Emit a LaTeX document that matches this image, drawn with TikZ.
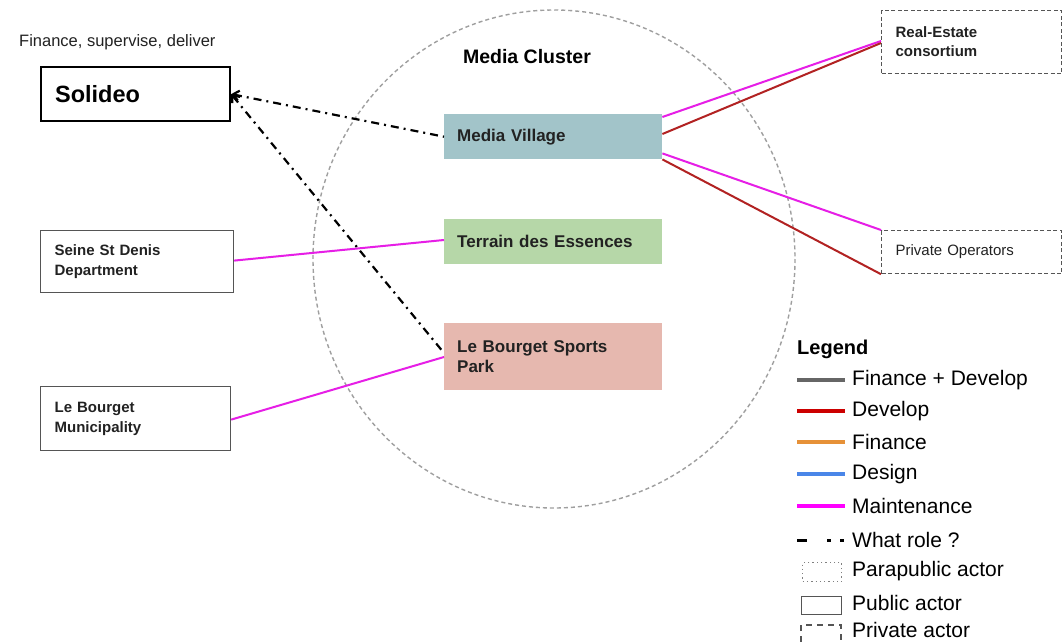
\documentclass[tikz,border=0pt]{standalone}
\usepackage{fontspec}
\setmainfont{Liberation Sans}
\usetikzlibrary{arrows.meta}
\definecolor{mvfill}{HTML}{A2C4C9}
\definecolor{tefill}{HTML}{B6D7A8}
\definecolor{spfill}{HTML}{E6B8AF}
\definecolor{magline}{HTML}{E61EE6}
\definecolor{redline}{HTML}{B22222}
\definecolor{lgray}{HTML}{666666}
\definecolor{lred}{HTML}{CC0000}
\definecolor{lorange}{HTML}{E69138}
\definecolor{lblue}{HTML}{4A86E8}
\definecolor{lmag}{HTML}{FF00FF}
\definecolor{boxgray}{HTML}{555555}
\definecolor{txt}{HTML}{222222}
\tikzset{
  basebox/.style={rectangle, anchor=north west, inner xsep=14pt, inner ysep=0pt, align=left, text=txt, font=\fontsize{15}{20}\selectfont\bfseries},
  pubbox/.style={basebox, draw=boxgray, line width=1.2pt},
  privbox/.style={basebox, draw=boxgray, line width=1.2pt, dash pattern=on 4pt off 2.5pt},
  sitebox/.style={basebox, inner xsep=13pt, font=\fontsize{17}{20}\selectfont\bfseries},
  maint/.style={draw=magline, line width=2pt},
  devl/.style={draw=redline, line width=2pt},
  whatrole/.style={draw=black, line width=2.2pt, dash pattern=on 8pt off 5pt on 2pt off 5pt},
  legline/.style={line width=3.5pt},
  legtext/.style={anchor=west, inner sep=0pt, font=\fontsize{21}{22}\selectfont},
}
\begin{document}
\begin{tikzpicture}[x=1pt,y=-1pt]
\useasboundingbox[fill=white] (0,0) rectangle (1062,642);
% cluster ellipse
\draw[draw=gray!75, line width=1.4pt, dash pattern=on 4pt off 3pt] (554,259) ellipse [x radius=241, y radius=249];
\node[font=\fontsize{19.5}{22}\selectfont\bfseries, text=black] (mc) at (527,57) {Media Cluster};
% Solideo
\node[anchor=west, inner sep=0pt, font=\fontsize{16.5}{18}\selectfont, text=txt] (fsd) at (19,42) {Finance, supervise, deliver};
\node[basebox, draw=black, line width=2.2pt, minimum width=189pt, text width=161pt, minimum height=54pt, font=\fontsize{23.5}{26}\selectfont\bfseries, text=black] (sol) at (40,66) {Solideo};
% public boxes
\node[pubbox, minimum width=193pt, text width=165pt, minimum height=62pt] (ssd) at (40,230) {Seine\,\,St Denis\\Department};
\node[pubbox, minimum width=190pt, text width=162pt, minimum height=64pt] (lbm) at (40,386) {Le Bourget\\Municipality};
% sites
\node[sitebox, fill=mvfill, minimum width=218pt, text width=192pt, minimum height=45pt] (mv) at (444,114) {Media Village};
\node[sitebox, fill=tefill, minimum width=218pt, text width=192pt, minimum height=45pt] (te) at (444,219) {Terrain des Essences};
\node[sitebox, fill=spfill, minimum width=218pt, text width=192pt, minimum height=67pt] (sp) at (444,323) {Le Bourget Sports\\Park};
% private boxes
\node[privbox, minimum width=180pt, text width=152pt, minimum height=63pt, font=\fontsize{15}{19}\selectfont\bfseries] (rec) at (881,10) {Real-Estate\\consortium};
\node[privbox, minimum width=180pt, text width=152pt, minimum height=43pt, font=\fontsize{15}{17}\selectfont] (po) at (881,230) {Private Operators};
% connectors
\draw[maint] ([yshift=-3pt]mv.north east) -- ([yshift=-31pt]rec.north west);
\draw[devl] ([yshift=-20pt]mv.north east) -- ([yshift=-33pt]rec.north west);
\draw[maint] ([yshift=6pt]mv.south east) -- (po.north west);
\draw[devl] (mv.south east) -- (po.south west);
\draw[maint] ([yshift=1pt]ssd.east) -- ([yshift=-21pt]te.north west);
\draw[maint] ([yshift=-1pt]lbm.east) -- ([yshift=-34pt]sp.north west);
\draw[whatrole, {Straight Barb[length=6pt,width=10pt]}-] (sol.east) -- (mv.west);
\draw[whatrole, {Straight Barb[length=6pt,width=10pt]}-] (sol.east) -- ([yshift=-30pt]sp.north west);
% legend
\node[legtext, font=\fontsize{20}{22}\selectfont\bfseries] (lg) at (797,349) {Legend};
\coordinate (l1a) at (797,380); \coordinate (l1b) at (845,380);
\coordinate (l2a) at (797,411); \coordinate (l2b) at (845,411);
\coordinate (l3a) at (797,442); \coordinate (l3b) at (845,442);
\coordinate (l4a) at (797,474); \coordinate (l4b) at (845,474);
\coordinate (l5a) at (797,506); \coordinate (l5b) at (845,506);
\coordinate (l6a) at (797,540); \coordinate (l6b) at (845,540);
\draw[legline, lgray] (l1a) -- (l1b);
\draw[legline, lred] (l2a) -- (l2b);
\draw[legline, lorange] (l3a) -- (l3b);
\draw[legline, lblue] (l4a) -- (l4b);
\draw[legline, lmag] (l5a) -- (l5b);
\draw[line width=3pt, black, dash pattern=on 10pt off 20pt on 4pt off 9pt on 4pt off 20pt] (l6a) -- (l6b);
\node[legtext] (t1) at (852,380) {Finance + Develop};
\node[legtext] (t2) at (852,411) {Develop};
\node[legtext] (t3) at (852,442) {Finance};
\node[legtext] (t4) at (852,474) {Design};
\node[legtext] (t5) at (852,506) {Maintenance};
\node[legtext] (t6) at (852,540) {What role ?};
\node[draw=gray, line width=1.3pt, dash pattern=on 1.3pt off 3pt, minimum width=39pt, minimum height=19pt, inner sep=0pt, anchor=north west] (k1) at (802,562) {};
\node[legtext] (t7) at (852,571) {Parapublic actor};
\node[draw=boxgray, line width=1.2pt, minimum width=40pt, minimum height=18pt, inner sep=0pt, anchor=north west] (k2) at (801,596) {};
\node[legtext] (t8) at (852,603) {Public actor};
\coordinate (k3a) at (801,642); \coordinate (k3b) at (801,625); \coordinate (k3c) at (841,625); \coordinate (k3d) at (841,642);
\draw[draw=boxgray, line width=1.2pt, dash pattern=on 6pt off 5pt] (k3a) -- (k3b) -- (k3c) -- (k3d);
\node[legtext] (t9) at (852,630) {Private actor};
\end{tikzpicture}
\end{document}
